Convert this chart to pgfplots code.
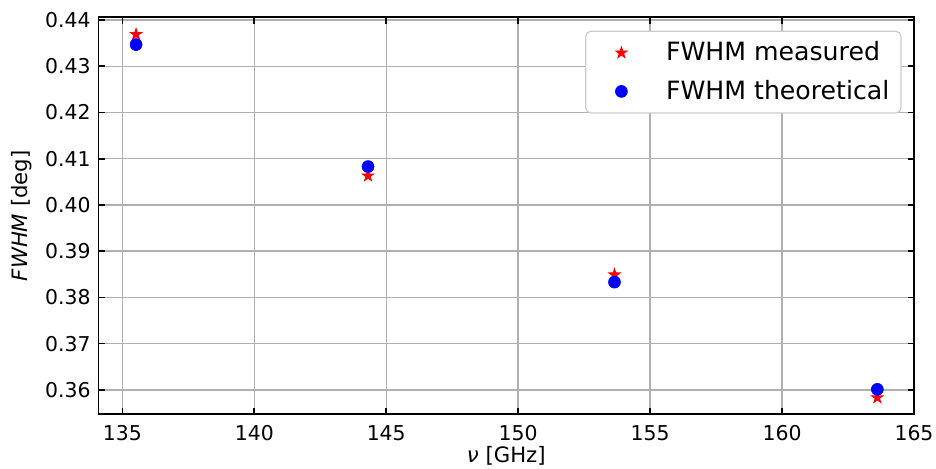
\documentclass[border=0pt]{standalone}
\usepackage{fontspec}
\setmainfont{DejaVu Sans}
\usepackage{pgfplots}
\pgfplotsset{compat=1.18}
\definecolor{gridgray}{HTML}{B0B0B0}
\definecolor{legframe}{HTML}{CCCCCC}
\pgfdeclareplotmark{fstar}{%
  \pgfpathmoveto{\pgfpointpolar{90}{\pgfplotmarksize}}%
  \pgfpathlineto{\pgfpointpolar{126}{0.382\pgfplotmarksize}}%
  \pgfpathlineto{\pgfpointpolar{162}{\pgfplotmarksize}}%
  \pgfpathlineto{\pgfpointpolar{198}{0.382\pgfplotmarksize}}%
  \pgfpathlineto{\pgfpointpolar{234}{\pgfplotmarksize}}%
  \pgfpathlineto{\pgfpointpolar{270}{0.382\pgfplotmarksize}}%
  \pgfpathlineto{\pgfpointpolar{306}{\pgfplotmarksize}}%
  \pgfpathlineto{\pgfpointpolar{342}{0.382\pgfplotmarksize}}%
  \pgfpathlineto{\pgfpointpolar{18}{\pgfplotmarksize}}%
  \pgfpathlineto{\pgfpointpolar{54}{0.382\pgfplotmarksize}}%
  \pgfpathclose
  \pgfusepathqfillstroke
}
\begin{document}
\begin{tikzpicture}
\useasboundingbox (-49.3pt,-26.85pt) rectangle (418.7pt,207.15pt);
\begin{axis}[
  at={(0,0)}, anchor=south west,
  scale only axis, width=407.7pt, height=198.5pt,
  xmin=134.1, xmax=165, ymin=0.3547, ymax=0.4406,
  xtick={135,140,145,150,155,160,165},
  ytick={0.36,0.37,0.38,0.39,0.40,0.41,0.42,0.43,0.44},
  tick align=inside, major tick length=3.15pt,
  xtick pos=both, ytick pos=both,
  grid=major, grid style={color=gridgray, line width=0.7pt},
  axis line style={line width=0.9pt},
  tick style={black, line width=0.8pt},
  ticklabel style={font=\fontsize{10.2}{12}\selectfont},
  label style={font=\fontsize{10.6}{12}\selectfont},
  /pgf/number format/assume math mode=true,
  yticklabel style={/pgf/number format/fixed, /pgf/number format/precision=2, /pgf/number format/fixed zerofill, xshift=-0.5pt},
  xticklabel style={yshift=-2pt},
  xlabel={\textit{ν} [GHz]}, ylabel={\textit{FWHM} [deg]},
  xlabel style={at={(axis description cs:0.5,0)}, anchor=center, yshift=-21pt},
  ylabel style={at={(axis description cs:-0.094,0.5)}, anchor=center},
  legend style={at={(rel axis cs:1,1)}, anchor=north east, xshift=-6.2pt, yshift=-6.7pt,
    font=\fontsize{12.6}{14}\selectfont,
    draw=legframe, line width=0.6pt, rounded corners=2.5pt, fill=white,
    inner xsep=0pt, inner ysep=1.1pt, column sep=0pt, row sep=0pt,
    nodes={inner sep=0pt}},
  legend cell align=left,
  legend image code/.code={%
    \path (-17.5pt,-9.35pt) (22pt,9.35pt);
    \draw[#1] plot coordinates {(0pt,0pt)};},
]
\addplot[only marks, mark=fstar, color=red, mark options={fill=red, draw=red, line width=0.4pt}, mark size=3pt]
  coordinates {(135.52,0.4369) (144.31,0.4063) (153.65,0.3849) (163.61,0.3583)};
\addlegendentry{FWHM measured\hspace*{5.8pt}}
\addplot[only marks, mark=*, color=blue, mark options={fill=blue, draw=blue, line width=0.3pt}, mark size=3pt]
  coordinates {(135.52,0.4347) (144.31,0.4083) (153.65,0.3833) (163.61,0.3601)};
\addlegendentry{FWHM theoretical\hspace*{5.8pt}}
\end{axis}
\end{tikzpicture}
\end{document}
